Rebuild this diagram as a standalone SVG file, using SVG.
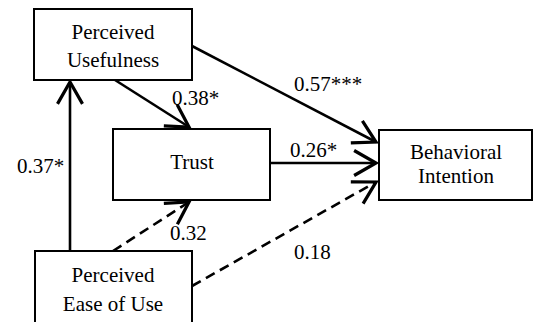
<svg xmlns="http://www.w3.org/2000/svg" width="534" height="322" viewBox="0 0 534 322">
<style>
.box{fill:#fff;stroke:#000;stroke-width:2}
.t{font-family:'Liberation Serif','Tinos','Times New Roman','DejaVu Serif',serif;font-size:21px;fill:#000}
.c{text-anchor:middle}
.ln{fill:none;stroke:#000;stroke-width:2.6;marker-end:url(#ah)}
.d{stroke-dasharray:10,6}
</style>
<defs>
<marker id="ah" markerUnits="userSpaceOnUse" markerWidth="30" markerHeight="30" viewBox="-20 -12 24 24" refX="0" refY="0" orient="auto" overflow="visible">
<path d="M-17.5,-10 L0,0 L-17.5,10" fill="none" stroke="#000" stroke-width="2.6" stroke-dasharray="none"/>
</marker>
</defs>
<g id="connectors">
<line class="ln" x1="70" y1="251" x2="70" y2="82"/>
<line class="ln" x1="115" y1="80" x2="189" y2="127"/>
<line class="ln" x1="192" y1="46" x2="376" y2="142"/>
<line class="ln" x1="270" y1="163" x2="376" y2="163"/>
<line class="ln d" x1="113" y1="251" x2="189" y2="202"/>
<line class="ln d" x1="192" y1="286" x2="376" y2="182"/>
</g>
<g id="labels" class="t">
<text x="17" y="173">0.37*</text>
<text x="172" y="105">0.38*</text>
<text x="294" y="91">0.57***</text>
<text x="290" y="157">0.26*</text>
<text x="170" y="240">0.32</text>
<text x="294" y="259">0.18</text>
</g>
<g id="pu" class="t">
<rect class="box" x="34" y="9" width="158" height="71"/>
<text class="c" x="113" y="39">Perceived</text>
<text class="c" x="113" y="67">Usefulness</text>
</g>
<g id="trust" class="t">
<rect class="box" x="113" y="129" width="157" height="71"/>
<text class="c" x="192" y="169">Trust</text>
</g>
<g id="bi" class="t">
<rect class="box" x="379" y="130" width="153" height="70"/>
<text class="c" x="456" y="159">Behavioral</text>
<text class="c" x="456" y="183">Intention</text>
</g>
<g id="peou" class="t">
<rect class="box" x="35" y="251" width="157" height="90"/>
<text class="c" x="113" y="282">Perceived</text>
<text class="c" x="113" y="311">Ease of Use</text>
</g>
</svg>
